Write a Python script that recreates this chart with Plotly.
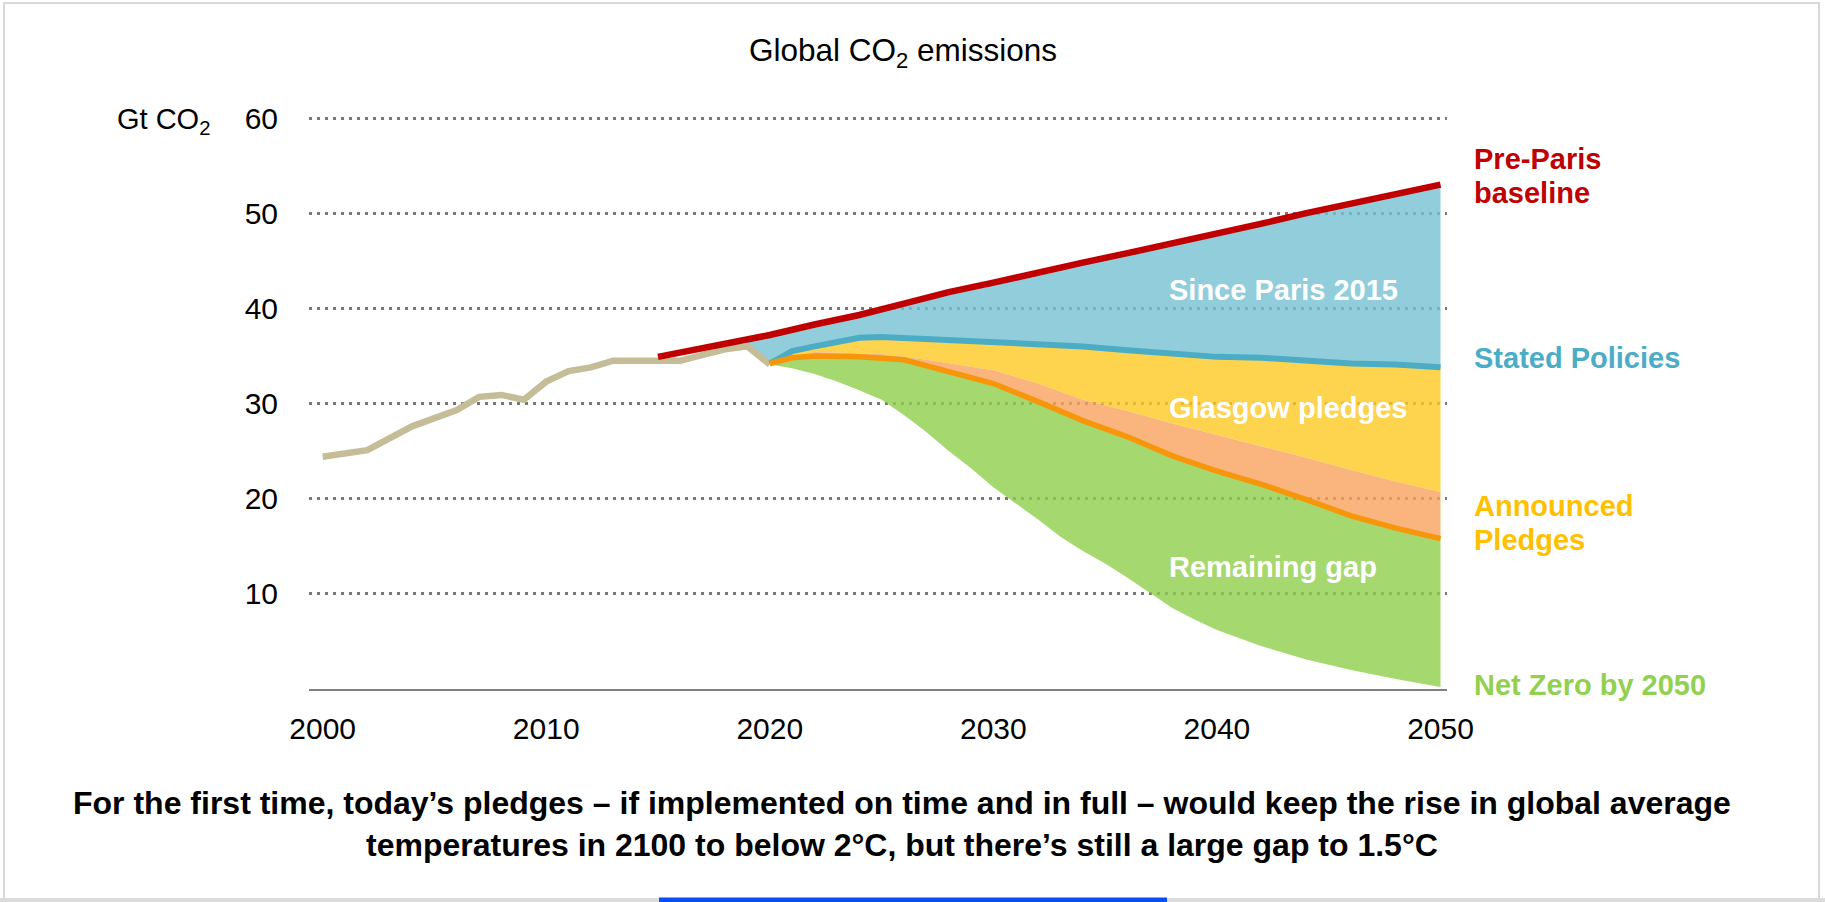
import plotly.graph_objects as go

# ---- data (Gt CO2) ----
hist_years = [2000, 2002, 2004, 2005, 2006, 2007, 2008, 2009, 2010, 2011, 2012,
              2013, 2014, 2015, 2016, 2017, 2018, 2019, 2020]
hist_co2 = [24.4, 25.1, 27.6, 28.5, 29.3, 30.7, 30.9, 30.4, 32.3, 33.4, 33.8,
            34.5, 34.5, 34.4, 34.5, 35.1, 35.7, 36.0, 34.1]

baseline_years = [2015, 2017, 2019, 2020, 2022, 2024, 2026, 2028, 2030, 2032,
                  2034, 2036, 2038, 2040, 2042, 2044, 2046, 2048, 2050]
baseline_co2 = [34.9, 35.8, 36.8, 37.2, 38.3, 39.3, 40.5, 41.7, 42.7, 43.8,
                44.8, 45.8, 46.8, 47.9, 48.9, 50.0, 51.0, 52.0, 53.0]

steps_years = [2020, 2021, 2022, 2023, 2024, 2025, 2026, 2028, 2030, 2032,
               2034, 2036, 2038, 2040, 2042, 2044, 2046, 2048, 2050]
steps_co2 = [34.2, 35.5, 36.0, 36.5, 36.9, 37.0, 36.9, 36.7, 36.4, 36.3,
             36.0, 35.6, 35.2, 34.9, 34.8, 34.5, 34.2, 34.1, 33.8]

glasgow_years = [2020, 2022, 2025, 2027, 2030, 2032, 2034, 2036, 2038, 2040,
                 2042, 2044, 2046, 2048, 2050]
glasgow_co2 = [34.2, 35.4, 35.2, 34.6, 33.5, 32.1, 30.4, 29.2, 27.9, 26.7,
               25.5, 24.3, 23.0, 21.8, 20.7]

aps_years = [2020, 2021, 2022, 2024, 2026, 2028, 2030, 2032, 2034, 2036,
             2038, 2040, 2042, 2044, 2046, 2048, 2050]
aps_co2 = [34.2, 34.8, 35.0, 34.9, 34.6, 33.4, 32.1, 30.2, 28.2, 26.5,
           24.5, 22.9, 21.5, 19.9, 18.2, 16.9, 15.8]

nze_years = [2020, 2021, 2022, 2023, 2024, 2025, 2026, 2027, 2028, 2029, 2030,
             2031, 2032, 2033, 2034, 2035, 2036, 2037, 2038, 2039, 2040,
             2042, 2044, 2046, 2048, 2050]
nze_co2 = [34.1, 33.7, 33.1, 32.3, 31.4, 30.4, 28.8, 27.0, 25.0, 23.2, 21.2,
           19.5, 17.8, 16.0, 14.5, 13.2, 11.7, 10.1, 8.5, 7.3, 6.2,
           4.5, 3.1, 2.0, 1.05, 0.2]

x_ticks = [2000, 2010, 2020, 2030, 2040, 2050]
y_ticks = [10, 20, 30, 40, 50, 60]

# ---- page geometry ----
W, H = 1825, 902
L, R, T, B = 309, 378, 113, 213
Y_TOP = 576 / (571 / 60)          # a little headroom so the 60 gridline shows
FONT = "Liberation Sans, Arial, sans-serif"


def px(x):
    return (x - L) / (W - L - R)


def py(y):
    return (H - B - y) / (H - T - B)


def band(x_up, y_up, x_lo, y_lo, color, name):
    return go.Scatter(x=list(x_up) + list(x_lo)[::-1],
                      y=list(y_up) + list(y_lo)[::-1],
                      fill="toself", fillcolor=color, mode="lines",
                      line=dict(width=0), hoverinfo="skip", name=name,
                      showlegend=False)


fig = go.Figure()

# "Since Paris 2015": between the pre-Paris baseline and stated policies
i19 = hist_years.index(2019)
bx = [x for x in baseline_years if x >= 2019]
by = [v for x, v in zip(baseline_years, baseline_co2) if x >= 2019]
fig.add_trace(band(bx, by, [hist_years[i19]] + steps_years,
                   [hist_co2[i19]] + steps_co2,
                   "rgba(119,193,211,0.8)", "Since Paris 2015"))
# "Glasgow pledges"
fig.add_trace(band(steps_years, steps_co2, glasgow_years, glasgow_co2,
                   "rgba(254,200,34,0.8)", "Glasgow pledges"))
# Announced pledges band
fig.add_trace(band(glasgow_years, glasgow_co2, aps_years, aps_co2,
                   "rgba(248,162,92,0.8)", "Announced pledges band"))
# "Remaining gap"
fig.add_trace(band(aps_years, aps_co2, nze_years, nze_co2,
                   "rgba(144,206,76,0.8)", "Remaining gap"))

# lines
fig.add_trace(go.Scatter(x=hist_years, y=hist_co2, mode="lines",
                         line=dict(color="#C4BD97", width=6.5), showlegend=False))
fig.add_trace(go.Scatter(x=baseline_years, y=baseline_co2, mode="lines",
                         line=dict(color="#C00000", width=6.5), showlegend=False))
fig.add_trace(go.Scatter(x=steps_years, y=steps_co2, mode="lines",
                         line=dict(color="#4BACC6", width=6), showlegend=False))
fig.add_trace(go.Scatter(x=aps_years, y=aps_co2, mode="lines",
                         line=dict(color="#F7960A", width=5.5), showlegend=False))

annotations = []


def note(text, x, y, size, color, bold=False, xanchor="left"):
    annotations.append(dict(
        text=f"<b>{text}</b>" if bold else text,
        xref="paper", yref="paper", x=px(x), y=py(y),
        xanchor=xanchor, yanchor="middle", showarrow=False,
        font=dict(family=FONT, size=size, color=color)))


note("Global CO<sub>2</sub> emissions", 903, 53, 31.5, "#000000", xanchor="center")
note("Gt CO<sub>2</sub>", 212, 121, 29, "#000000", xanchor="right")

# series labels on the right
note("Pre-Paris", 1472, 159, 29, "#C00000", bold=True)
note("baseline", 1472, 193, 29, "#C00000", bold=True)
note("Stated Policies", 1472, 358, 29, "#4BACC6", bold=True)
note("Announced", 1472, 506, 29, "#FFC000", bold=True)
note("Pledges", 1472, 540, 29, "#FFC000", bold=True)
note("Net Zero by 2050", 1472, 685, 29, "#92D050", bold=True)

# area labels
note("Since Paris 2015", 1167, 290, 29, "#FFFFFF", bold=True)
note("Glasgow pledges", 1167, 408, 29, "#FFFFFF", bold=True)
note("Remaining gap", 1167, 567, 29, "#FFFFFF", bold=True)

# footnote
note("For the first time, today’s pledges – if implemented on time and in full – "
     "would keep the rise in global average<br>temperatures in 2100 to below 2°C, "
     "but there’s still a large gap to 1.5°C",
     902, 824, 32, "#000000", bold=True, xanchor="center")

shapes = [
    # page frame
    dict(type="rect", xref="paper", yref="paper", x0=px(4), x1=px(1819),
         y0=py(3), y1=py(899), line=dict(color="#D9D9D9", width=2),
         layer="below"),
    dict(type="rect", xref="paper", yref="paper", x0=px(0), x1=px(W),
         y0=py(898), y1=py(H), line=dict(width=0), fillcolor="#DCDCDC"),
    dict(type="rect", xref="paper", yref="paper", x0=px(659), x1=px(1167),
         y0=py(897.5), y1=py(H), line=dict(width=0), fillcolor="#0A4CF5"),
]

fig.update_layout(
    width=W, height=H,
    margin=dict(l=L, r=R, t=T, b=B, pad=0),
    paper_bgcolor="#FFFFFF", plot_bgcolor="#FFFFFF",
    showlegend=False,
    annotations=annotations,
    shapes=shapes,
    font=dict(family=FONT, color="#000000"),
)
fig.update_xaxes(range=[1999.39, 2050.29], tickvals=x_ticks,
                 ticktext=[str(v) for v in x_ticks],
                 showgrid=False, zeroline=False, showline=True,
                 linecolor="#808080", linewidth=2, ticks="",
                 tickfont=dict(family=FONT, size=30, color="#000000"),
                 ticklabelstandoff=12, fixedrange=True)
fig.update_yaxes(range=[0, Y_TOP], tickvals=y_ticks,
                 ticktext=[str(v) for v in y_ticks],
                 showgrid=True, gridcolor="#777777", gridwidth=3,
                 griddash="3px,5px", zeroline=False, showline=False, ticks="",
                 tickfont=dict(family=FONT, size=30, color="#000000"),
                 ticklabelstandoff=30, fixedrange=True)

fig.write_html("out.html", config={"displayModeBar": False})
